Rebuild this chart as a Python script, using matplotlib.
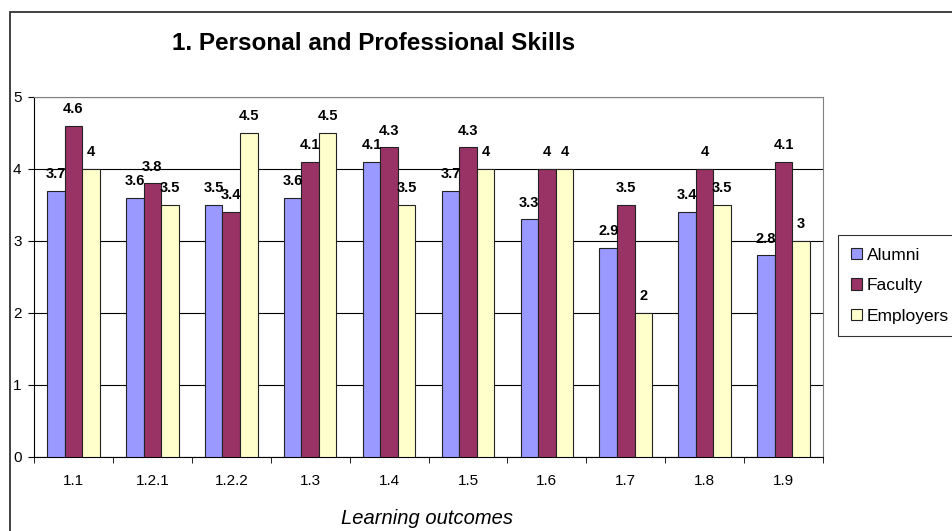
import matplotlib.pyplot as plt
import numpy as np
from matplotlib.patches import Rectangle

plt.rcParams["font.family"] = ["Liberation Sans", "DejaVu Sans"]

OUTCOMES = ["1.1", "1.2.1", "1.2.2", "1.3", "1.4", "1.5", "1.6", "1.7", "1.8", "1.9"]
ALUMNI = [3.7, 3.6, 3.5, 3.6, 4.1, 3.7, 3.3, 2.9, 3.4, 2.8]
FACULTY = [4.6, 3.8, 3.4, 4.1, 4.3, 4.3, 4, 3.5, 4, 4.1]
EMPLOYERS = [4, 3.5, 4.5, 4.5, 3.5, 4, 4, 2, 3.5, 3]

SERIES = [("Alumni", ALUMNI, "#9999FF"),
          ("Faculty", FACULTY, "#993366"),
          ("Employers", EMPLOYERS, "#FFFFCC")]

W, H = 952, 531
fig = plt.figure(figsize=(W / 100, H / 100), dpi=100)

# chart frame, runs off the right and bottom edges
fig.patches.append(Rectangle((10 / W, -0.1), 2, 1 - 12 / H + 0.1,
                             transform=fig.transFigure, fill=False,
                             edgecolor="#333333", linewidth=1.3))

ax = fig.add_axes([34 / W, 1 - 457 / H, (823 - 34) / W, (457 - 97) / H])

x = np.arange(len(OUTCOMES))
bar_w = 1 / 4.5
for i, (name, vals, color) in enumerate(SERIES):
    bars = ax.bar(x + (i - 1) * bar_w, vals, bar_w, color=color,
                  edgecolor="#222222", linewidth=0.8, label=name, zorder=3)
    for b, v in zip(bars, vals):
        ax.annotate(f"{v:g}", (b.get_x() + b.get_width() / 2, v),
                    xytext=(0, 7), textcoords="offset points",
                    ha="center", va="bottom", fontsize=10.5,
                    fontweight="bold", zorder=4)

ax.set_xlim(-0.5, len(OUTCOMES) - 0.5)
ax.set_ylim(0, 5)
ax.set_yticks(range(6))
ax.yaxis.grid(True, color="black", linewidth=0.8, zorder=0)
ax.set_xticks(x)
ax.set_xticklabels(OUTCOMES, fontsize=11)
ax.tick_params(axis="x", length=0, pad=12)
ax.set_xticks(np.arange(len(OUTCOMES) + 1) - 0.5, minor=True)
ax.tick_params(axis="x", which="minor", length=4, direction="out")
ax.tick_params(axis="y", length=4, direction="out", labelsize=11, pad=5)

for s in ("top", "right"):
    ax.spines[s].set_color("#808080")
for s in ("left", "bottom"):
    ax.spines[s].set_color("black")

fig.text(374 / W, 1 - 43 / H, "1. Personal and Professional Skills",
         ha="center", va="center", fontsize=17.5, fontweight="bold")
fig.text(427 / W, 1 - 518 / H, "Learning outcomes", ha="center",
         va="center", fontsize=14.5, style="italic")

leg = fig.legend(loc="upper left", bbox_to_anchor=(838 / W, 1 - 235 / H),
                 frameon=True, fancybox=False, edgecolor="black",
                 fontsize=12.5, handlelength=0.65, handleheight=0.65,
                 handletextpad=0.3, labelspacing=0.9, borderpad=0.72,
                 borderaxespad=0)
leg.get_frame().set_linewidth(0.8)

fig.savefig("out.png", dpi=100)
